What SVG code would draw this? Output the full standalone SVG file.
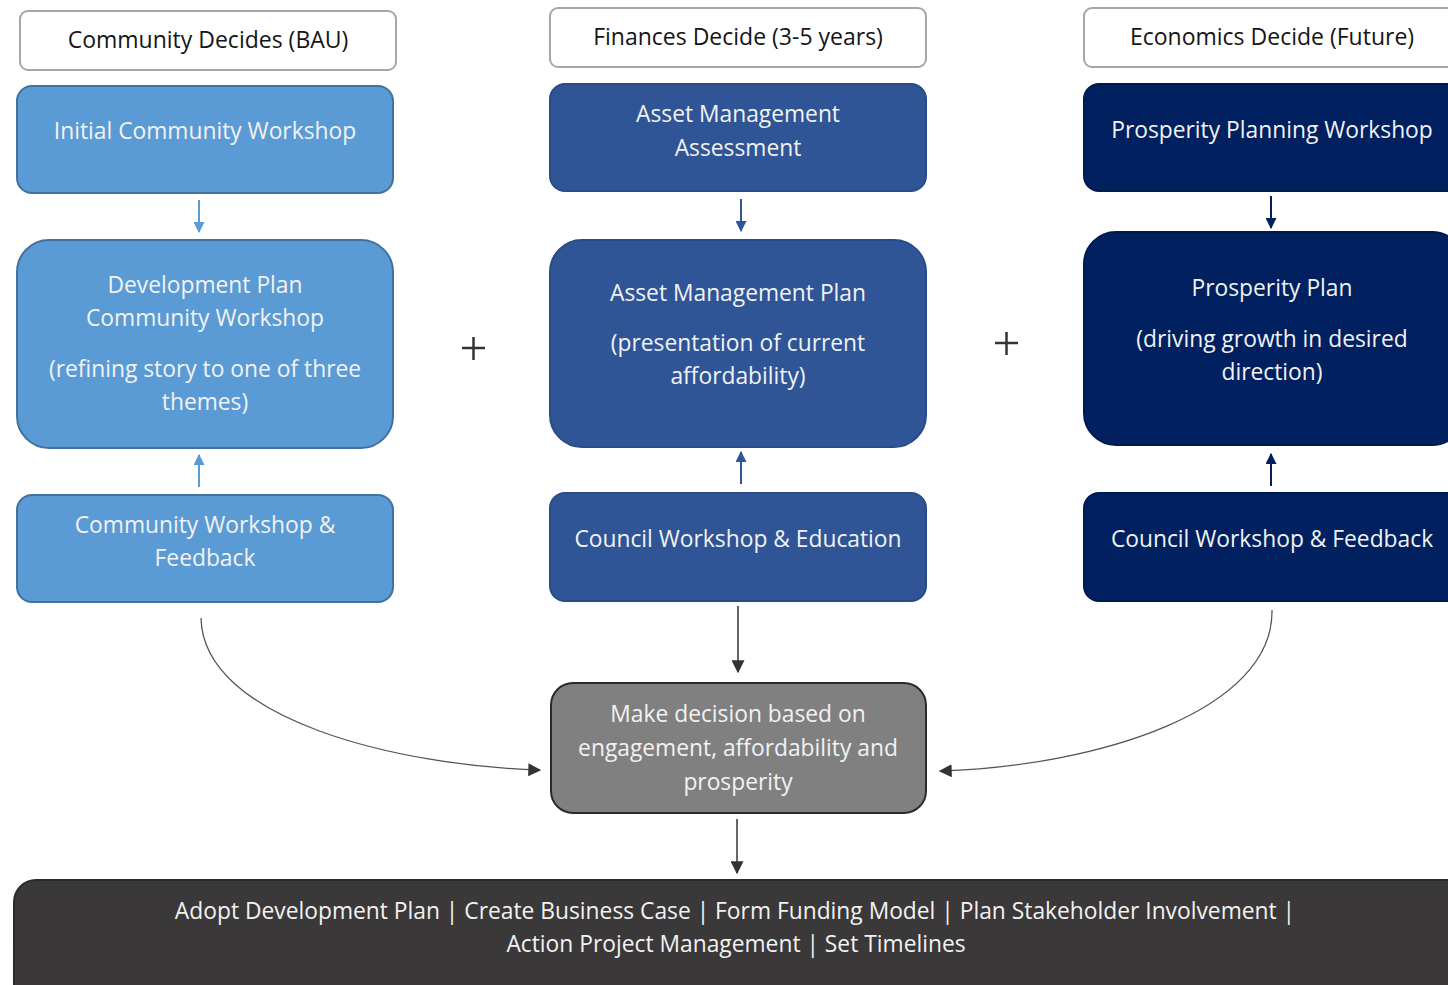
<svg xmlns="http://www.w3.org/2000/svg" width="1448" height="985" viewBox="0 0 1448 985">
<defs>
<style>
text{font-family:"Open Sans","DejaVu Sans",sans-serif;text-anchor:middle;dominant-baseline:central}
.hdr rect{fill:#fff;stroke:#a6a6a6;stroke-width:2}
.hdr text{fill:#151515;font-size:23px}
.t{fill:#f2f2f2;font-size:22.8px}
.c1{fill:#5b9bd5;stroke:#41719c;stroke-width:2}
.c2{fill:#2f5597;stroke:#2a4c86;stroke-width:2}
.c3{fill:#002060;stroke:#001a50;stroke-width:2}
.dec{fill:#808080;stroke:#2b2b2b;stroke-width:2}
.bot{fill:#3a3838;stroke:#2b2b2b;stroke-width:2}
.plus{stroke:#333;stroke-width:2.5}
</style>
<marker id="a1" viewBox="0 0 10 10" refX="9" refY="5" markerWidth="11" markerHeight="11" markerUnits="userSpaceOnUse" orient="auto"><path d="M0,0 L10,5 L0,10 z" fill="#5b9bd5"/></marker>
<marker id="a2" viewBox="0 0 10 10" refX="9" refY="5" markerWidth="11" markerHeight="11" markerUnits="userSpaceOnUse" orient="auto"><path d="M0,0 L10,5 L0,10 z" fill="#2f5597"/></marker>
<marker id="a3" viewBox="0 0 10 10" refX="9" refY="5" markerWidth="11" markerHeight="11" markerUnits="userSpaceOnUse" orient="auto"><path d="M0,0 L10,5 L0,10 z" fill="#002060"/></marker>
<marker id="ak" viewBox="0 0 10 10" refX="9" refY="5" markerWidth="13" markerHeight="13" markerUnits="userSpaceOnUse" orient="auto"><path d="M0,0 L10,5 L0,10 z" fill="#333"/></marker>
</defs>
<rect width="1448" height="985" fill="#fff"/>

<g id="hdr1" class="hdr"><rect x="20" y="11" width="376" height="59" rx="8"/><text x="208" y="39">Community Decides (BAU)</text></g>
<g id="hdr2" class="hdr"><rect x="550" y="8" width="376" height="59" rx="8"/><text x="738" y="36">Finances Decide (3-5 years)</text></g>
<g id="hdr3" class="hdr"><rect x="1084" y="8" width="380" height="59" rx="8"/><text x="1272" y="36">Economics Decide (Future)</text></g>

<g id="n1a"><rect class="c1" x="17" y="86" width="376" height="107" rx="15"/><text class="t" x="205" y="130">Initial Community Workshop</text></g>
<g id="n1b"><rect class="c1" x="17" y="240" width="376" height="208" rx="32"/><text class="t" x="205" y="284">Development Plan</text><text class="t" x="205" y="317">Community Workshop</text><text class="t" x="205" y="368">(refining story to one of three</text><text class="t" x="205" y="401">themes)</text></g>
<g id="n1c"><rect class="c1" x="17" y="495" width="376" height="107" rx="15"/><text class="t" x="205" y="524">Community Workshop &amp;</text><text class="t" x="205" y="557">Feedback</text></g>

<g id="n2a"><rect class="c2" x="550" y="84" width="376" height="107" rx="15"/><text class="t" x="738" y="113">Asset Management</text><text class="t" x="738" y="147">Assessment</text></g>
<g id="n2b"><rect class="c2" x="550" y="240" width="376" height="207" rx="32"/><text class="t" x="738" y="292">Asset Management Plan</text><text class="t" x="738" y="342">(presentation of current</text><text class="t" x="738" y="375">affordability)</text></g>
<g id="n2c"><rect class="c2" x="550" y="493" width="376" height="108" rx="15"/><text class="t" x="738" y="538">Council Workshop &amp; Education</text></g>

<g id="n3a"><rect class="c3" x="1084" y="84" width="380" height="107" rx="15"/><text class="t" x="1272" y="129">Prosperity Planning Workshop</text></g>
<g id="n3b"><rect class="c3" x="1084" y="232" width="380" height="213" rx="32"/><text class="t" x="1272" y="287">Prosperity Plan</text><text class="t" x="1272" y="338">(driving growth in desired</text><text class="t" x="1272" y="371">direction)</text></g>
<g id="n3c"><rect class="c3" x="1084" y="493" width="380" height="108" rx="15"/><text class="t" x="1272" y="538">Council Workshop &amp; Feedback</text></g>

<g id="decision"><rect class="dec" x="551" y="683" width="375" height="130" rx="22"/><text class="t" x="738" y="713">Make decision based on</text><text class="t" x="738" y="747">engagement, affordability and</text><text class="t" x="738" y="781">prosperity</text></g>

<g id="outcome"><rect class="bot" x="14" y="880" width="1460" height="130" rx="22"/><text class="t" x="735" y="910">Adopt Development Plan | Create Business Case | Form Funding Model | Plan Stakeholder Involvement |</text><text class="t" x="736" y="943">Action Project Management | Set Timelines</text></g>

<g id="plus1" class="plus"><line x1="462" y1="348" x2="485" y2="348"/><line x1="473.5" y1="337" x2="473.5" y2="360"/></g>
<g id="plus2" class="plus"><line x1="995" y1="343" x2="1018" y2="343"/><line x1="1006.5" y1="332" x2="1006.5" y2="355"/></g>

<g id="connectors" fill="none">
<line x1="199" y1="200" x2="199" y2="232" stroke="#5b9bd5" stroke-width="2" marker-end="url(#a1)"/>
<line x1="199" y1="487" x2="199" y2="455" stroke="#5b9bd5" stroke-width="2" marker-end="url(#a1)"/>
<line x1="741" y1="199" x2="741" y2="231" stroke="#2f5597" stroke-width="2" marker-end="url(#a2)"/>
<line x1="741" y1="484" x2="741" y2="452" stroke="#2f5597" stroke-width="2" marker-end="url(#a2)"/>
<line x1="1271" y1="196" x2="1271" y2="228" stroke="#002060" stroke-width="2" marker-end="url(#a3)"/>
<line x1="1271" y1="486" x2="1271" y2="454" stroke="#002060" stroke-width="2" marker-end="url(#a3)"/>
<line x1="738" y1="606" x2="738" y2="672" stroke="#333" stroke-width="1.5" marker-end="url(#ak)"/>
<line x1="737" y1="819" x2="737" y2="873" stroke="#333" stroke-width="1.5" marker-end="url(#ak)"/>
<path d="M201,618 C203,720 400,766 540,770" stroke="#555" stroke-width="1.3" marker-end="url(#ak)"/>
<path d="M1272,610 C1274,710 1100,766 940,771" stroke="#555" stroke-width="1.3" marker-end="url(#ak)"/>
</g>
</svg>
